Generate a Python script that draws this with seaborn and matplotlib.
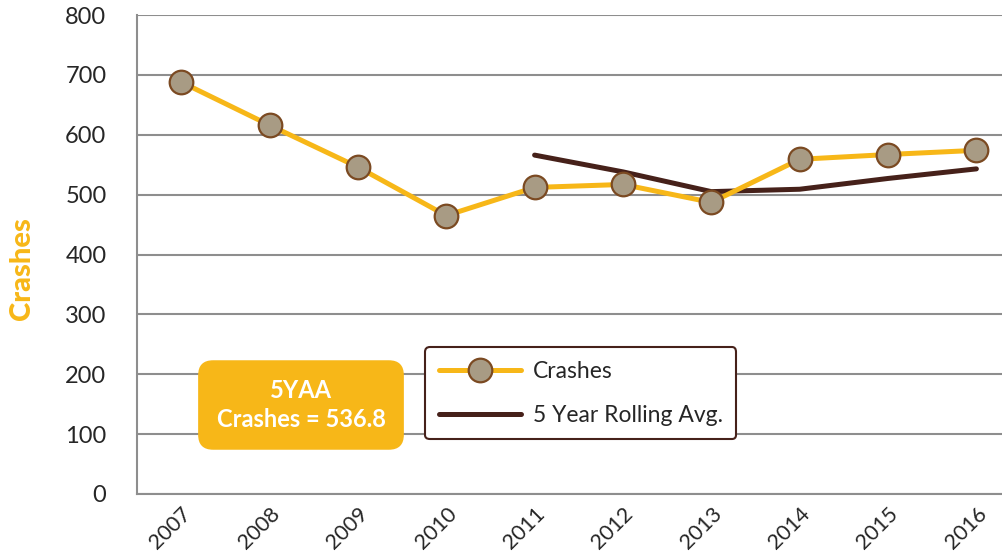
import numpy as np
import pandas as pd
import matplotlib
matplotlib.use("Agg")
import matplotlib.pyplot as plt
from matplotlib.lines import Line2D
import seaborn as sns

# values
years = [2007, 2008, 2009, 2010, 2011, 2012, 2013, 2014, 2015, 2016]
crashes = [688, 616, 546, 465, 512, 517, 487, 559, 567, 574]
avg_years = [2011, 2012, 2013, 2014, 2015, 2016]
rolling_avg = [566, 538, 505, 509, 527, 543]
yticks = [0, 100, 200, 300, 400, 500, 600, 700, 800]
summary_text = "5YAA\nCrashes = 536.8"

ORANGE = "#F7B718"
MARKER_FILL = "#A89B84"
MARKER_EDGE = "#7B4A22"
BROWN = "#46211A"
GRID = "#8E8E8E"

sns.set_style("white")
plt.rcParams['font.family'] = ['Lato', 'DejaVu Sans']

crash_df = pd.DataFrame({"year": years, "crashes": crashes})
avg_df = pd.DataFrame({"year": avg_years, "avg": rolling_avg})

fig = plt.figure(figsize=(10.02, 5.59), dpi=100)
ax = fig.add_axes([137 / 1002, 1 - 494 / 559, 1 - 137 / 1002, (494 - 15) / 559])

sns.lineplot(data=crash_df, x="year", y="crashes", ax=ax, color=ORANGE, lw=3.6,
             marker="o", markersize=17, markerfacecolor=MARKER_FILL,
             markeredgecolor=MARKER_EDGE, markeredgewidth=1.6, zorder=4)
sns.lineplot(data=avg_df, x="year", y="avg", ax=ax, color=BROWN, lw=3.6,
             solid_capstyle="round", zorder=3)

ax.set_ylim(0, 800)
ax.set_yticks(yticks)
ax.set_xlim(2006.5, 2016.29)
ax.set_xticks(years)
ax.set_xticklabels([str(y) for y in years], rotation=45, ha="right",
                   rotation_mode="anchor", fontsize=15.5)
ax.set_xticks([y - 0.5 for y in years], minor=True)
ax.tick_params(axis="x", which="major", length=0, pad=7)
ax.tick_params(axis="x", which="minor", length=12, width=1.5, color=GRID, direction="out")
ax.tick_params(axis="y", length=8, width=1.5, color=GRID, direction="out", labelsize=17, pad=14)

ax.grid(axis="y", color=GRID, lw=1.5)
ax.set_axisbelow(True)
for side in ["top", "right"]:
    ax.spines[side].set_visible(False)
for side in ["left", "bottom"]:
    ax.spines[side].set_color(GRID)
    ax.spines[side].set_linewidth(1.5)

ax.set_xlabel("")
ax.set_ylabel("Crashes", fontsize=21, fontweight="black", color=ORANGE)
ax.yaxis.set_label_coords(-0.118, 0.47)

handles = [
    Line2D([], [], color=ORANGE, lw=3.6, marker="o", markersize=17,
           markerfacecolor=MARKER_FILL, markeredgecolor=MARKER_EDGE, markeredgewidth=1.6),
    Line2D([], [], color=BROWN, lw=3.6, solid_capstyle="round"),
]
leg = fig.legend(handles, ["Crashes", "5 Year Rolling Avg."], loc="upper left",
                 bbox_to_anchor=(425 / 1002, 1 - 347 / 559), borderaxespad=0,
                 fontsize=16.5, handlelength=3.6, labelspacing=1.0, borderpad=0.6,
                 handletextpad=0.5, frameon=True, fancybox=True, framealpha=1)
leg.get_frame().set_edgecolor(BROWN)
leg.get_frame().set_linewidth(1.5)

fig.text(301 / 1002, 1 - 405 / 559, summary_text, ha="center", va="center",
         fontsize=17, fontweight="bold", color="white", linespacing=1.35,
         bbox=dict(boxstyle="round,pad=0.75,rounding_size=0.6", fc=ORANGE, ec=ORANGE))

fig.savefig("out.png", dpi=100)
